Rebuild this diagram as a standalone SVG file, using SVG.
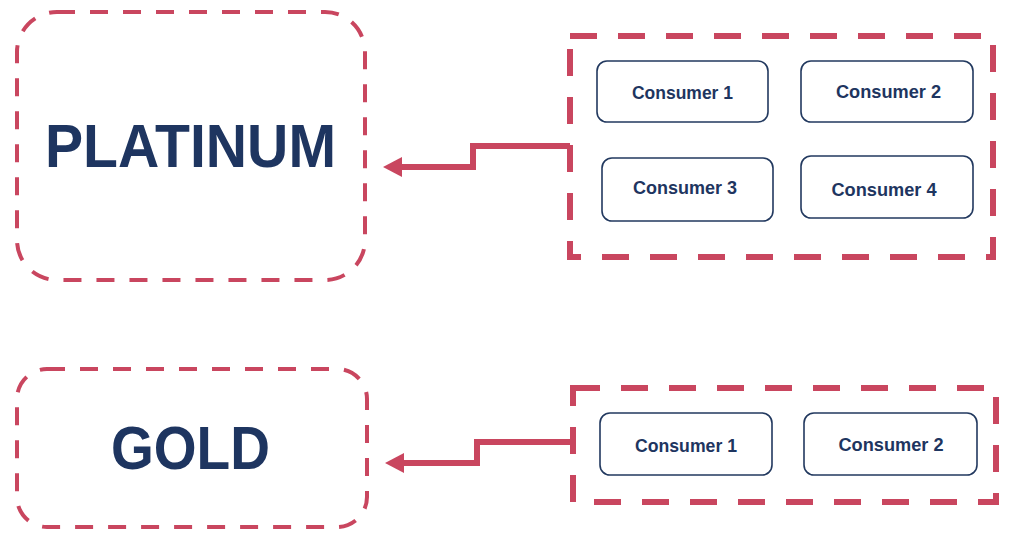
<svg xmlns="http://www.w3.org/2000/svg" width="1024" height="544" viewBox="0 0 1024 544">
<style>
.tier{fill:none;stroke:#c9465f;stroke-width:4;stroke-dasharray:18 15;}
.group{fill:none;stroke:#c9465f;stroke-width:6;stroke-dasharray:27 21;}
.cons{fill:#ffffff;stroke:#22395f;stroke-width:1.6;}
.big{font-family:"Liberation Sans",Arial,sans-serif;font-weight:bold;font-size:61px;fill:#1e3560;text-anchor:middle;}
.lbl{font-family:"Liberation Sans",Arial,sans-serif;font-weight:bold;font-size:18.5px;fill:#1e3560;text-anchor:middle;}
.conn{fill:none;stroke:#c9465f;stroke-width:6;stroke-linejoin:miter;marker-end:url(#ah);}
</style>
<defs>
<marker id="ah" markerUnits="userSpaceOnUse" markerWidth="20" markerHeight="20" refX="4" refY="10" orient="auto">
<path d="M0,0 L19,10 L0,20 z" fill="#c9465f"/>
</marker>
</defs>
<rect width="1024" height="544" fill="#ffffff"/>
<g id="platinum">
<rect class="tier" x="17" y="12" width="348" height="268" rx="40"/>
<text class="big" x="190.5" y="167" textLength="291" lengthAdjust="spacingAndGlyphs">PLATINUM</text>
</g>
<g id="gold">
<rect class="tier" x="17" y="369" width="350" height="158" rx="30"/>
<text class="big" x="190.5" y="469" font-size="62" textLength="159" lengthAdjust="spacingAndGlyphs">GOLD</text>
</g>
<g id="platinum-consumers">
<rect class="group" x="570" y="36" width="423" height="221"/>
</g>
<g id="p-consumer1">
<rect class="cons" x="597" y="61" width="171" height="61" rx="10"/>
<text class="lbl" x="682.5" y="99" textLength="101" lengthAdjust="spacingAndGlyphs">Consumer 1</text>
</g>
<g id="p-consumer2">
<rect class="cons" x="801" y="61" width="172" height="61" rx="10"/>
<text class="lbl" x="888.5" y="98" textLength="105" lengthAdjust="spacingAndGlyphs">Consumer 2</text>
</g>
<g id="p-consumer3">
<rect class="cons" x="602" y="158" width="171" height="63" rx="10"/>
<text class="lbl" x="685" y="194" textLength="104" lengthAdjust="spacingAndGlyphs">Consumer 3</text>
</g>
<g id="p-consumer4">
<rect class="cons" x="801" y="156" width="172" height="62" rx="10"/>
<text class="lbl" x="884" y="196" textLength="105" lengthAdjust="spacingAndGlyphs">Consumer 4</text>
</g>
<g id="gold-consumers">
<rect class="group" x="573" y="388" width="423" height="114"/>
</g>
<g id="g-consumer1">
<rect class="cons" x="600" y="413" width="172" height="62" rx="10"/>
<text class="lbl" x="686" y="452" textLength="102" lengthAdjust="spacingAndGlyphs">Consumer 1</text>
</g>
<g id="g-consumer2">
<rect class="cons" x="804" y="413" width="173" height="62" rx="10"/>
<text class="lbl" x="891" y="451" textLength="105" lengthAdjust="spacingAndGlyphs">Consumer 2</text>
</g>
<g id="connectors">
<path class="conn" d="M570,146 H473 V167 H398"/>
<path class="conn" d="M572,442 H477 V463 H400"/>
</g>
</svg>
